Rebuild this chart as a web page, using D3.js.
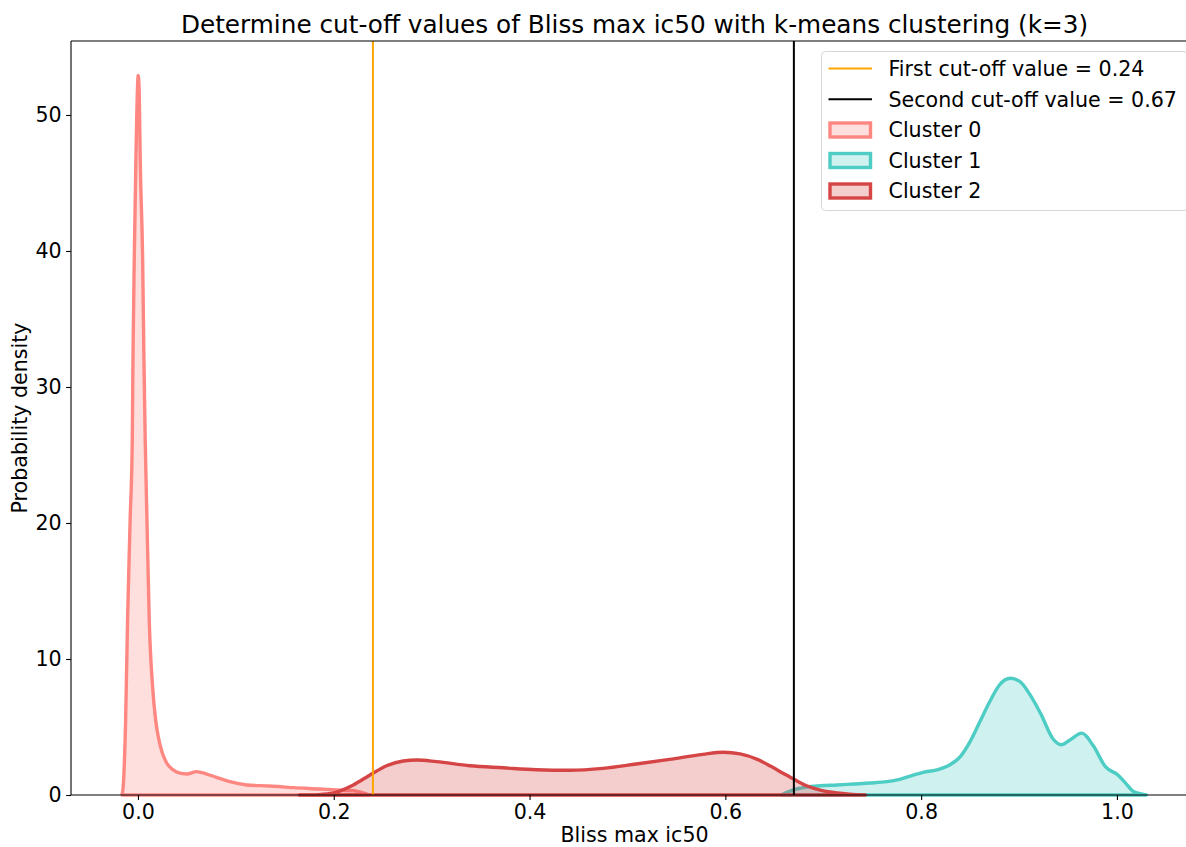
<!DOCTYPE html>
<html>
<head>
<meta charset="utf-8">
<script src="https://cdn.jsdelivr.net/npm/d3@7"></script>
<style>
  html, body { margin: 0; padding: 0; background: #fff; overflow: hidden; }
  text { font-family: "DejaVu Sans", sans-serif; fill: #000; }
</style>
</head>
<body>
<svg id="chart" width="1186" height="847"></svg>
<script>
// ---------------- data ----------------
const titleText = "Determine cut-off values of Bliss max ic50 with k-means clustering (k=3)";
const xLabel = "Bliss max ic50";
const yLabel = "Probability density";
const xTicks = [0.0, 0.2, 0.4, 0.6, 0.8, 1.0];
const yTicks = [0, 10, 20, 30, 40, 50];

const cutoffValues = [0.24, 0.67];
const cutoffLabels = ["First cut-off value = 0.24", "Second cut-off value = 0.67"];

const clusterNames = ["Cluster 0", "Cluster 1", "Cluster 2"];

const cluster0X = [-0.0163, -0.0151, -0.0126, -0.0106, -0.0080, -0.0058, -0.0051, -0.0038, -0.0021, 0.0003,
  0.0013, 0.0023, 0.0048, 0.0061, 0.0074, 0.0092, 0.0115, 0.0150, 0.0181, 0.0207, 0.0248, 0.0293, 0.0361,
  0.0420, 0.0497, 0.0599, 0.0701, 0.0804, 0.0940, 0.1111, 0.1348, 0.1587, 0.1859, 0.2030, 0.2200, 0.2300, 0.2360];
const cluster0Y = [0, 0.6, 5.5, 12.9, 20.2, 26.1, 32.0, 39.3, 46.7, 52.9,
  51.6, 46.7, 39.3, 32.0, 26.1, 20.2, 12.9, 7.9, 5.5, 4.3, 3.1, 2.35, 1.84,
  1.62, 1.54, 1.72, 1.54, 1.30, 0.98, 0.74, 0.66, 0.54, 0.44, 0.37, 0.32, 0.15, 0];

const cluster1X = [0.657, 0.666, 0.683, 0.697, 0.714, 0.731, 0.748, 0.765, 0.778, 0.792, 0.802, 0.816, 0.829,
  0.840, 0.850, 0.860, 0.870, 0.880, 0.891, 0.901, 0.911, 0.922, 0.935, 0.943, 0.952, 0.964, 0.976, 0.988,
  1.001, 1.009, 1.017, 1.030];
const cluster1Y = [0, 0.29, 0.59, 0.68, 0.74, 0.81, 0.88, 0.98, 1.15, 1.47, 1.67, 1.84, 2.2,
  2.82, 3.92, 5.39, 6.86, 8.09, 8.58, 8.33, 7.4, 6.0, 4.1, 3.7, 4.05, 4.55, 3.6, 2.1,
  1.47, 0.86, 0.25, 0];

const cluster2X = [0.165, 0.185, 0.200, 0.206, 0.220, 0.237, 0.254, 0.271, 0.285, 0.305, 0.339, 0.373, 0.407,
  0.441, 0.475, 0.509, 0.543, 0.577, 0.598, 0.615, 0.632, 0.646, 0.659, 0.671, 0.683, 0.697, 0.714, 0.727, 0.743];
const cluster2Y = [0, 0.03, 0.15, 0.29, 0.74, 1.47, 2.15, 2.5, 2.57, 2.45, 2.15, 2.0, 1.86,
  1.82, 1.96, 2.28, 2.62, 2.99, 3.14, 3.02, 2.64, 2.13, 1.6, 1.12, 0.68, 0.36, 0.15, 0.06, 0];

const xDomain = [-0.0684, 1.0828];
const yDomain = [0, 55.44];

// ---------------- styles ----------------
const clusterStroke = ["#FF8782", "#4ECDC4", "#D64545"];
const clusterFillOpacity = 0.27;
const cutoffColors = ["#FFA500", "#000000"];
const baseFont = 20.6;

// ---------------- layout ----------------
const svg = d3.select("#chart");
const plot = { left: 71, top: 41, right: 1198, bottom: 795 };

const x = d3.scaleLinear().domain(xDomain).range([plot.left, plot.right]);
const y = d3.scaleLinear().domain(yDomain).range([plot.bottom, plot.top]);

const series = [
  { name: clusterNames[0], xs: cluster0X, ys: cluster0Y, color: clusterStroke[0] },
  { name: clusterNames[1], xs: cluster1X, ys: cluster1Y, color: clusterStroke[1] },
  { name: clusterNames[2], xs: cluster2X, ys: cluster2Y, color: clusterStroke[2] }
];

const area = d3.area()
  .x(d => x(d[0]))
  .y0(y(0))
  .y1(d => y(d[1]))
  .curve(d3.curveMonotoneX);

const gPlot = svg.append("g");

series.forEach(s => {
  const pts = s.xs.map((v, i) => [v, s.ys[i]]);
  gPlot.append("path")
    .datum(pts)
    .attr("d", area)
    .attr("fill", s.color)
    .attr("fill-opacity", clusterFillOpacity)
    .attr("stroke", s.color)
    .attr("stroke-width", 3.4)
    .attr("stroke-linejoin", "round");
});

// cut-off lines
cutoffValues.forEach((v, i) => {
  gPlot.append("line")
    .attr("x1", x(v)).attr("x2", x(v))
    .attr("y1", plot.top).attr("y2", plot.bottom)
    .attr("stroke", cutoffColors[i])
    .attr("stroke-width", 2);
});

// axes
const xAxis = d3.axisBottom(x).tickValues(xTicks).tickFormat(d3.format(".1f"))
  .tickSize(4.9).tickPadding(4.5).tickSizeOuter(0);
const yAxis = d3.axisLeft(y).tickValues(yTicks).tickFormat(d3.format("d"))
  .tickSize(4.9).tickPadding(4.5).tickSizeOuter(0);

const gx = svg.append("g").attr("transform", `translate(0,${plot.bottom})`).call(xAxis);
const gy = svg.append("g").attr("transform", `translate(${plot.left},0)`).call(yAxis);
[gx, gy].forEach(g => {
  g.select(".domain").remove();
  g.selectAll(".tick line").attr("stroke", "#000").attr("stroke-width", 1.1);
  g.selectAll(".tick text").attr("font-family", "DejaVu Sans").attr("font-size", baseFont).attr("fill", "#000");
});

// spines
const spine = svg.append("g").attr("stroke", "#000").attr("stroke-width", 1.1).attr("fill", "none");
spine.append("line").attr("x1", plot.left).attr("x2", plot.left).attr("y1", plot.top).attr("y2", plot.bottom);
spine.append("line").attr("x1", plot.left).attr("x2", plot.right).attr("y1", plot.bottom).attr("y2", plot.bottom);
spine.append("line").attr("x1", plot.left).attr("x2", plot.right).attr("y1", plot.top).attr("y2", plot.top);
spine.append("line").attr("x1", plot.right).attr("x2", plot.right).attr("y1", plot.top).attr("y2", plot.bottom);

// title & labels
svg.append("text")
  .attr("x", (plot.left + plot.right) / 2).attr("y", 33)
  .attr("text-anchor", "middle").attr("font-size", baseFont * 1.2)
  .text(titleText);

svg.append("text")
  .attr("x", (plot.left + plot.right) / 2).attr("y", 842)
  .attr("text-anchor", "middle").attr("font-size", baseFont)
  .text(xLabel);

svg.append("text")
  .attr("transform", `translate(27,${(plot.top + plot.bottom) / 2}) rotate(-90)`)
  .attr("text-anchor", "middle").attr("font-size", baseFont)
  .text(yLabel);

// legend
const leg = svg.append("g");
const legX = 821.5, legY = 51.5, legW = 366.5, legH = 159;
leg.append("rect")
  .attr("x", legX).attr("y", legY).attr("width", legW).attr("height", legH)
  .attr("rx", 4).attr("fill", "#fff").attr("fill-opacity", 0.8)
  .attr("stroke", "#d6d6d6").attr("stroke-width", 1);

const rowY = [68.5, 99.3, 130, 160.5, 191];
const handleX0 = 828.5, handleX1 = 872;
const textX = 888.5;

cutoffLabels.forEach((lab, i) => {
  leg.append("line")
    .attr("x1", handleX0).attr("x2", handleX1)
    .attr("y1", rowY[i]).attr("y2", rowY[i])
    .attr("stroke", cutoffColors[i]).attr("stroke-width", 2);
  leg.append("text")
    .attr("x", textX).attr("y", rowY[i]).attr("dy", "0.36em")
    .attr("font-size", baseFont).text(lab);
});

series.forEach((s, j) => {
  const i = j + 2;
  leg.append("rect")
    .attr("x", handleX0 + 1.5).attr("y", rowY[i] - 7)
    .attr("width", handleX1 - handleX0 - 3).attr("height", 14)
    .attr("fill", "#fff");
  leg.append("rect")
    .attr("x", handleX0 + 1.5).attr("y", rowY[i] - 7)
    .attr("width", handleX1 - handleX0 - 3).attr("height", 14)
    .attr("fill", s.color).attr("fill-opacity", clusterFillOpacity)
    .attr("stroke", s.color).attr("stroke-width", 3.4);
  leg.append("text")
    .attr("x", textX).attr("y", rowY[i]).attr("dy", "0.36em")
    .attr("font-size", baseFont).text(s.name);
});
</script>
</body>
</html>
